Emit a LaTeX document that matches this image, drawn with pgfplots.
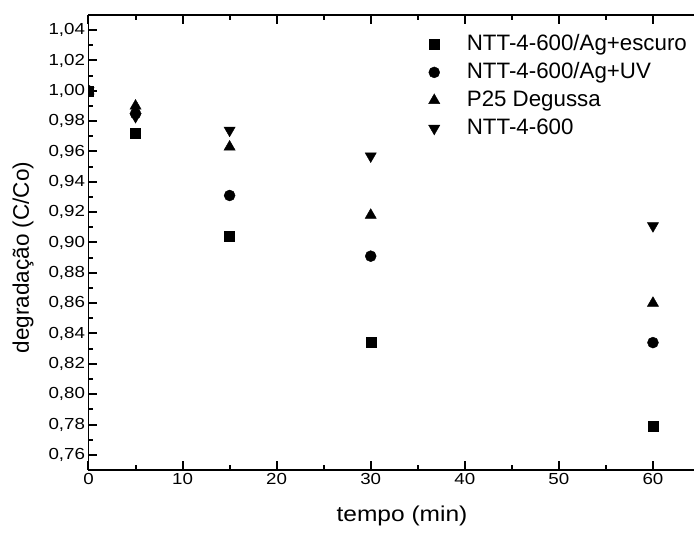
\documentclass[border=0pt]{standalone}
\usepackage{fontspec}
\setmainfont{Liberation Sans}
\newfontfamily\tickfont[FakeStretch=1.17]{Liberation Sans}
\newfontfamily\xlabfont[FakeStretch=1.14]{Liberation Sans}
\usepackage{pgfplots}
\pgfplotsset{compat=1.18}
\begin{document}
\begin{tikzpicture}
\begin{axis}[
  scale only axis, width=611.5bp, height=455bp,
  xmin=0, xmax=65, ymin=0.75, ymax=1.05,
  xtick={0,10,20,30,40,50,60}, minor xtick={5,15,25,35,45,55,65},
  ytick={0.76,0.78,0.80,0.82,0.84,0.86,0.88,0.90,0.92,0.94,0.96,0.98,1.00,1.02,1.04},
  minor ytick={0.75,0.77,0.79,0.81,0.83,0.85,0.87,0.89,0.91,0.93,0.95,0.97,0.99,1.01,1.03,1.05},
  tick align=inside, ytick pos=left,
  major tick length=9bp, minor tick length=5bp,
  axis line style={line width=1.8bp},
  tick style={black, line width=2bp},
  /pgf/number format/assume math mode=true,
  yticklabel style={/pgf/number format/.cd, use comma, fixed, fixed zerofill, precision=2},
  ticklabel style={font=\tickfont\fontsize{16bp}{19bp}\selectfont},
  xlabel={tempo (min)}, ylabel={degradação (C/Co)},
  every axis x label/.style={at={([yshift=-46bp]axis description cs:0.5127,0)}, anchor=center,
    font=\xlabfont\fontsize{21.5bp}{26bp}\selectfont},
  every axis y label/.style={at={([xshift=-65.5bp]axis description cs:0,0.467)}, anchor=center, rotate=90,
    font=\fontsize{22.5bp}{26bp}\selectfont},
  clip marker paths=true,
  legend style={draw=none, fill=none, at={(axis description cs:0.551,0.971)}, anchor=north west,
    font=\fontsize{22.3bp}{26bp}\selectfont,
    nodes={inner ysep=4bp, inner xsep=27bp, text height=16bp, text depth=4bp}},
  legend cell align=left,
]
\coordinate (sw) at (rel axis cs:0,0);
\coordinate (ne) at (rel axis cs:1,1);
\addplot[only marks, mark=square*, mark size=5bp, mark options={fill=black, draw=black}]
  coordinates {(0,1.000) (5,0.972) (15,0.904) (30,0.834) (60,0.779)};
\addlegendentry{NTT-4-600/Ag+escuro}
\addplot[only marks, mark=*, mark size=5.5bp, mark options={fill=black, draw=black}]
  coordinates {(0,1.000) (5,0.985) (15,0.931) (30,0.891) (60,0.834)};
\addlegendentry{NTT-4-600/Ag+UV}
\addplot[only marks, mark=triangle*, mark size=6.5bp, mark options={fill=black, draw=black}]
  coordinates {(0,1.000) (5,0.990) (15,0.963) (30,0.918) (60,0.860)};
\addlegendentry{P25 Degussa}
\addplot[only marks, mark=triangle*, mark size=6.5bp, mark options={fill=black, draw=black, rotate=180}]
  coordinates {(0,1.000) (5,0.983) (15,0.974) (30,0.957) (60,0.911)};
\addlegendentry{NTT-4-600}
\end{axis}
\pgfresetboundingbox
\path ([shift={(-88.5bp,-63bp)}]sw) rectangle ([shift={(-6bp,15bp)}]ne);
\end{tikzpicture}
\end{document}
